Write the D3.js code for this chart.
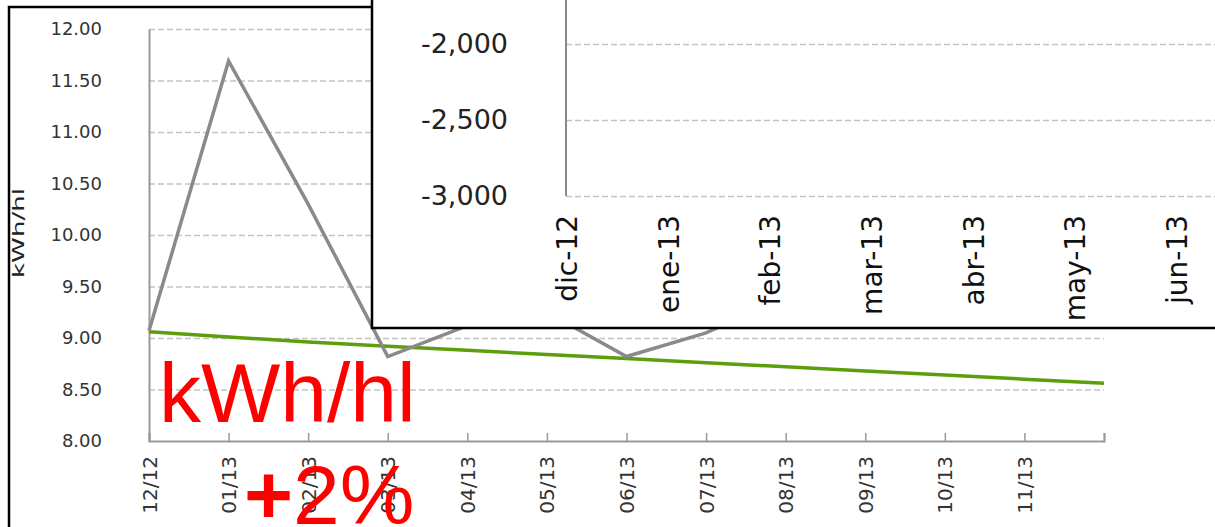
<!DOCTYPE html>
<html>
<head>
<meta charset="utf-8">
<script src="https://cdn.jsdelivr.net/npm/d3@7"></script>
<style>
  body { margin: 0; background: #fff; }
  svg { display: block; }
</style>
</head>
<body>
<div id="chart"></div>
<script>
// back chart: monthly kWh/hl
const months = ["12/12", "01/13", "02/13", "03/13", "04/13", "05/13", "06/13",
                "07/13", "08/13", "09/13", "10/13", "11/13", ""];
const kwhValues = [9.07, 11.69, 10.30, 8.82, 9.12, 9.25, 8.82, 9.05, 9.40, 9.60, 9.70, 9.90];
const trendValues = [9.06, 9.01, 8.96, 8.92, 8.88, 8.84, 8.80, 8.76, 8.72, 8.68, 8.64, 8.60, 8.56];
const kwhTicks = [8, 8.5, 9, 9.5, 10, 10.5, 11, 11.5, 12];

// front chart (overlay): only axes are visible
const overlayMonths = ["dic-12", "ene-13", "feb-13", "mar-13", "abr-13", "may-13", "jun-13"];
const overlayTicks = [-3000, -2500, -2000];

const width = 1215, height = 527;

const svg = d3.select("#chart").append("svg")
    .attr("width", width)
    .attr("height", height);

svg.append("rect").attr("width", width).attr("height", height).attr("fill", "#fff");

// ---------- back chart ----------
let back = svg.append("g");

back.append("rect")
    .attr("x", 9).attr("y", 7)
    .attr("width", 1400).attr("height", 700)
    .attr("fill", "#fff")
    .attr("stroke", "#000")
    .attr("stroke-width", 2.5);

let x = d3.scalePoint()
    .domain(d3.range(months.length))
    .range([149, 1104]);

let y = d3.scaleLinear()
    .domain([8, 12])
    .range([441, 29]);

// gridlines
back.append("g")
    .attr("transform", "translate(149,0)")
    .call(d3.axisRight(y).tickValues(kwhTicks.slice(1)).tickSize(1104 - 149).tickFormat(""))
    .call(g => g.select(".domain").remove())
    .call(g => g.selectAll("line")
        .attr("stroke", "#c4c4c4")
        .attr("stroke-width", 1.5)
        .attr("stroke-dasharray", "6,3"));

// y axis
back.append("g")
    .attr("transform", "translate(149,0)")
    .call(d3.axisLeft(y).tickValues(kwhTicks).tickSize(0).tickPadding(47).tickFormat(d3.format(".2f")))
    .call(g => g.select(".domain").attr("stroke", "#999").attr("stroke-width", 2))
    .call(g => g.selectAll("text")
        .attr("fill", "#333")
        .style("font-family", "'DejaVu Sans', sans-serif")
        .style("font-size", "18px"));

// x axis, ticks pointing up into the plot
back.append("g")
    .attr("transform", "translate(0,441)")
    .call(d3.axisBottom(x).tickSize(-8).tickFormat(i => months[i]))
    .call(g => g.select(".domain").attr("stroke", "#999").attr("stroke-width", 2))
    .call(g => g.selectAll("line").attr("stroke", "#999").attr("stroke-width", 1.5))
    .call(g => g.selectAll("text")
        .attr("transform", "rotate(-90)")
        .attr("x", -15)
        .attr("y", 0)
        .attr("dy", "0.35em")
        .attr("fill", "#333")
        .style("text-anchor", "end")
        .style("font-family", "'DejaVu Sans', sans-serif")
        .style("font-size", "20px"));

back.append("text")
    .attr("transform", "translate(24,233) rotate(-90)")
    .attr("text-anchor", "middle")
    .attr("textLength", 90)
    .attr("lengthAdjust", "spacingAndGlyphs")
    .attr("fill", "#222")
    .style("font-family", "'DejaVu Sans', sans-serif")
    .style("font-size", "16px")
    .text("kWh/hl");

let line = d3.line()
    .x((d, i) => x(i))
    .y(d => y(d));

back.append("path")
    .datum(trendValues)
    .attr("d", line)
    .attr("fill", "none")
    .attr("stroke", "#5c9e0c")
    .attr("stroke-width", 3.5);

back.append("path")
    .datum(kwhValues)
    .attr("d", line)
    .attr("fill", "none")
    .attr("stroke", "#8a8a8a")
    .attr("stroke-width", 3.5)
    .attr("stroke-linejoin", "miter");

// ---------- front chart (pasted on top) ----------
let front = svg.append("g");

front.append("rect")
    .attr("x", 372).attr("y", -10)
    .attr("width", 900).attr("height", 338)
    .attr("fill", "#fff")
    .attr("stroke", "#000")
    .attr("stroke-width", 2.5);

let y2 = d3.scaleLinear()
    .domain([-3000, -2000])
    .range([196, 44]);

let x2 = d3.scalePoint()
    .domain(overlayMonths)
    .range([567, 567 + 101.7 * (overlayMonths.length - 1)]);

front.append("g")
    .attr("transform", "translate(566,0)")
    .call(d3.axisRight(y2).tickValues(overlayTicks).tickSize(width - 566).tickFormat(""))
    .call(g => g.select(".domain").remove())
    .call(g => g.selectAll("line")
        .attr("stroke", "#c4c4c4")
        .attr("stroke-width", 1.5)
        .attr("stroke-dasharray", "6,3"));

front.append("line")
    .attr("x1", 566).attr("x2", 566)
    .attr("y1", 0).attr("y2", y2(-3000))
    .attr("stroke", "#888")
    .attr("stroke-width", 2);

// plain hyphen as minus sign, like the original
let fmtThousands = d => d3.format(",")(d).replace("\u2212", "-");

front.append("g")
    .attr("transform", "translate(566,0)")
    .call(d3.axisLeft(y2).tickValues(overlayTicks).tickSize(0).tickPadding(58).tickFormat(fmtThousands))
    .call(g => g.select(".domain").remove())
    .call(g => g.selectAll("text")
        .attr("fill", "#222")
        .style("font-family", "'DejaVu Sans', sans-serif")
        .style("font-size", "27px"));

front.append("g")
    .selectAll("text")
    .data(overlayMonths)
    .join("text")
    .attr("transform", d => `translate(${x2(d)},215) rotate(-90)`)
    .attr("dy", "0.35em")
    .attr("text-anchor", "end")
    .attr("fill", "#111")
    .style("font-family", "'DejaVu Sans', sans-serif")
    .style("font-size", "28px")
    .text(d => d);

// ---------- red annotations ----------
svg.append("text")
    .attr("x", 159).attr("y", 422)
    .attr("fill", "#ff0000")
    .style("font-family", "'Liberation Sans', Arial, sans-serif")
    .style("font-size", "84px")
    .text("kWh/hl");

let pct = svg.append("text")
    .attr("x", 244).attr("y", 524)
    .attr("fill", "#ff0000")
    .style("font-family", "'Liberation Sans', Arial, sans-serif")
    .style("font-size", "84px");
pct.append("tspan").style("font-weight", "bold").text("+");
pct.append("tspan").text("2%");
</script>
</body>
</html>
